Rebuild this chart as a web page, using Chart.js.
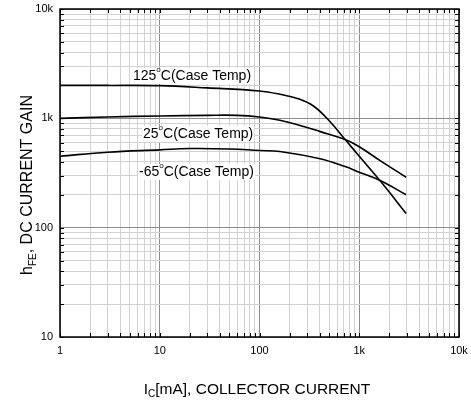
<!DOCTYPE html>
<html>
<head>
<meta charset="utf-8">
<script src="https://cdn.jsdelivr.net/npm/chart.js@4/dist/chart.umd.min.js"></script>
<style>
body{margin:0;background:#fff}
canvas{display:block}
</style>
</head>
<body>
<canvas id="gainChart" width="471" height="405"></canvas>
<script>
// =========================
// DATA  (Ic in mA, hFE)
// =========================

let ic125=[1,3,10,30,100,160,250,350,500,722,1000,1620,2950]
let hfe125=[2000,2000,1990,1900,1780,1660,1500,1290,950,640,450,268,135]

let ic25=[1,3,10,30,60,100,160,255,400,722,1000,1620,2950]
let hfe25=[1000,1030,1050,1065,1065,1028,960,860,760,640,550,410,289]

let icM65=[1,3,10,20,50,100,160,405,722,1000,1620,2950]
let hfeM65=[450,490,515,530,525,508,498,427,362,322,270,200]

let xDecades=[1,10,100,1000,10000]
let xLabels=["1","10","100","1k","10k"]
let yDecades=[10,100,1000,10000]
let yLabels=["10","100","1k","10k"]

let curveNames=["125","25","-65"]

// =========================
// HELPERS
// =========================

function pts(xs,ys){
  return xs.map((x,i)=>({x:x,y:ys[i]}))
}

// 1..9 per decade
function logTicks(decades){
  let t=[]
  for(let d=0;d<decades.length-1;d++){
    for(let m=1;m<10;m++) t.push({value:decades[d]*m})
  }
  t.push({value:decades[decades.length-1]})
  return t
}

function isMajor(v,decades){
  return decades.some(d=>Math.abs(d-v)<1e-9*d)
}

const FONT="'Liberation Sans', Arial, sans-serif"

// =========================
// FRAME, TICKS, LABELS
// =========================

let decorPlugin={
  id:"decor",
  afterDraw(chart){
    let ctx=chart.ctx
    let a=chart.chartArea
    let xs=chart.scales.x, ys=chart.scales.y
    ctx.save()

    // inner tick marks on all four sides
    ctx.strokeStyle="#000"
    ctx.lineWidth=1
    ctx.beginPath()
    xs.ticks.forEach(t=>{
      let px=Math.round(xs.getPixelForValue(t.value))+0.5
      ctx.moveTo(px,a.bottom); ctx.lineTo(px,a.bottom-4)
      ctx.moveTo(px,a.top); ctx.lineTo(px,a.top+4)
    })
    ys.ticks.forEach(t=>{
      let py=Math.round(ys.getPixelForValue(t.value))+0.5
      ctx.moveTo(a.left,py); ctx.lineTo(a.left+4,py)
      ctx.moveTo(a.right,py); ctx.lineTo(a.right-4,py)
    })
    ctx.stroke()

    // frame
    ctx.lineWidth=1.5
    ctx.strokeRect(a.left,a.top,a.right-a.left,a.bottom-a.top)

    // curve labels
    function tempLabel(num,x,y){
      ctx.font="14px "+FONT
      let w1=ctx.measureText(num).width
      ctx.font="8px "+FONT
      let w2=ctx.measureText("o").width
      ctx.font="14px "+FONT
      let w3=ctx.measureText("C(Case Temp)").width
      let w=w1+w2+w3
      ctx.fillStyle="#fff"
      ctx.fillRect(x-1,y-8,w+2,16)
      ctx.fillStyle="#000"
      ctx.textBaseline="middle"
      ctx.textAlign="left"
      ctx.fillText(num,x,y)
      ctx.font="8px "+FONT
      ctx.fillText("o",x+w1,y-6)
      ctx.font="14px "+FONT
      ctx.fillText("C(Case Temp)",x+w1+w2,y)
    }
    tempLabel(curveNames[0],133,76)
    tempLabel(curveNames[1],143,134)
    tempLabel(curveNames[2],139,172)

    // x axis title with subscript
    ctx.fillStyle="#000"
    ctx.textBaseline="alphabetic"
    ctx.textAlign="left"
    ctx.font="15.5px "+FONT
    let wI=ctx.measureText("I").width
    let rest="[mA], COLLECTOR CURRENT"
    let wR=ctx.measureText(rest).width
    ctx.font="10px "+FONT
    let wC=ctx.measureText("C").width
    let tw=wI+wC+wR
    let x0=257-tw/2, by=394
    ctx.font="15.5px "+FONT
    ctx.fillText("I",x0,by)
    ctx.font="10px "+FONT
    ctx.fillText("C",x0+wI,by+3)
    ctx.font="15.5px "+FONT
    ctx.fillText(rest,x0+wI+wC,by)

    // y axis title, rotated
    ctx.save()
    ctx.translate(32,185)
    ctx.rotate(-Math.PI/2)
    ctx.font="16px "+FONT
    let wh=ctx.measureText("h").width
    let yrest=", DC CURRENT GAIN"
    let wyr=ctx.measureText(yrest).width
    ctx.font="10px "+FONT
    let wfe=ctx.measureText("FE").width
    let ytw=wh+wfe+wyr
    let y0=-ytw/2
    ctx.font="16px "+FONT
    ctx.fillText("h",y0,0)
    ctx.font="10px "+FONT
    ctx.fillText("FE",y0+wh,4)
    ctx.font="16px "+FONT
    ctx.fillText(yrest,y0+wh+wfe,0)
    ctx.restore()

    ctx.restore()
  }
}

// =========================
// CHART
// =========================

function lineSet(data){
  return {
    data:data,
    borderColor:"#000",
    borderWidth:1.6,
    pointRadius:0,
    tension:0.4,
    fill:false
  }
}

new Chart(document.getElementById("gainChart"),{
  type:"line",
  data:{
    datasets:[
      lineSet(pts(ic125,hfe125)),
      lineSet(pts(ic25,hfe25)),
      lineSet(pts(icM65,hfeM65))
    ]
  },
  options:{
    responsive:false,
    animation:false,
    layout:{padding:{left:0,top:9,right:12,bottom:0}},
    plugins:{legend:{display:false},tooltip:{enabled:false}},
    scales:{
      x:{
        type:"logarithmic",
        min:1,max:10000,
        afterBuildTicks(s){ s.ticks=logTicks(xDecades) },
        afterFit(s){ s.height=68; s.paddingLeft=0; s.paddingRight=0 },
        grid:{
          drawTicks:false,
          color:c=>isMajor(c.tick.value,xDecades)?"#8c8c8c":"#d2d2d2",
          lineWidth:1
        },
        border:{display:false},
        ticks:{
          autoSkip:false,
          maxRotation:0,
          padding:7,
          color:"#000",
          font:{family:FONT,size:11},
          callback:function(v){
            let i=xDecades.indexOf(v)
            return i>=0?xLabels[i]:""
          }
        }
      },
      y:{
        type:"logarithmic",
        min:10,max:10000,
        afterBuildTicks(s){ s.ticks=logTicks(yDecades) },
        afterFit(s){ s.width=60; s.paddingTop=0; s.paddingBottom=0 },
        grid:{
          drawTicks:false,
          color:c=>isMajor(c.tick.value,yDecades)?"#8c8c8c":"#d2d2d2",
          lineWidth:1
        },
        border:{display:false},
        ticks:{
          autoSkip:false,
          padding:7,
          color:"#000",
          font:{family:FONT,size:11},
          callback:function(v){
            let i=yDecades.indexOf(v)
            return i>=0?yLabels[i]:""
          }
        }
      }
    }
  },
  plugins:[decorPlugin]
})
</script>
</body>
</html>
